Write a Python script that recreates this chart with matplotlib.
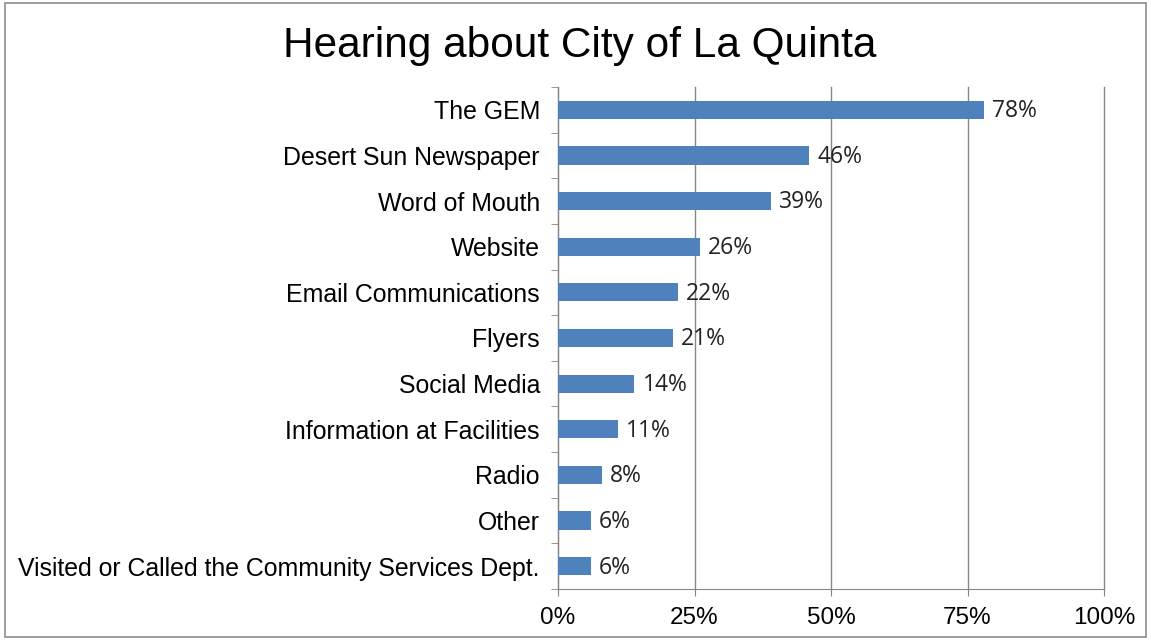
import matplotlib.pyplot as plt
from matplotlib.patches import Rectangle
import numpy as np

categories = ['The GEM', 'Desert Sun Newspaper', 'Word of Mouth', 'Website',
              'Email Communications', 'Flyers', 'Social Media',
              'Information at Facilities', 'Radio', 'Other',
              'Visited or Called the Community Services Dept.']
values = [78, 46, 39, 26, 22, 21, 14, 11, 8, 6, 6]
xticks = [0, 25, 50, 75, 100]

fig = plt.figure(figsize=(11.51, 6.41), dpi=100)
ax = fig.add_axes([0.4848, 0.0811, 0.4744, 0.7832])

y = np.arange(len(categories))
ax.barh(y, values, height=0.4, color='#4F81BD', zorder=3)
ax.set_ylim(len(categories) - 0.5, -0.5)
ax.set_xlim(0, 100)

for yi, v in zip(y, values):
    ax.text(v + 1.5, yi + 0.03, f'{v}%', va='center', ha='left', fontsize=16.5,
            family='Open Sans', color='#222222', zorder=4)

ax.set_yticks(y)
ax.set_yticklabels(categories, fontsize=17.9, family='Liberation Sans')
ax.set_yticks(np.arange(len(categories) + 1) - 0.5, minor=True)
ax.tick_params(axis='y', which='major', length=0, pad=13)
ax.tick_params(axis='y', which='minor', length=5, color='#868686', direction='out')

ax.set_xticks(xticks)
ax.set_xticklabels([f'{t}%' for t in xticks], fontsize=17.5, family='Liberation Sans')
ax.tick_params(axis='x', length=5, color='#868686', pad=8)
ax.xaxis.grid(True, color='#868686', linewidth=1, zorder=0)
for gl in ax.get_xgridlines():
    gl.set_clip_on(False)

for side in ['top', 'right']:
    ax.spines[side].set_visible(False)
for side in ['left', 'bottom']:
    ax.spines[side].set_color('#868686')

fig.text(0.504, 0.928, 'Hearing about City of La Quinta', ha='center', va='center',
         fontsize=30.5, family='Liberation Sans')

fig.patches.append(Rectangle((0.004, 0.007), 0.992, 0.988, transform=fig.transFigure,
                             fill=False, edgecolor='#8c8c8c', linewidth=1.2))

fig.savefig('out.png', dpi=100)
